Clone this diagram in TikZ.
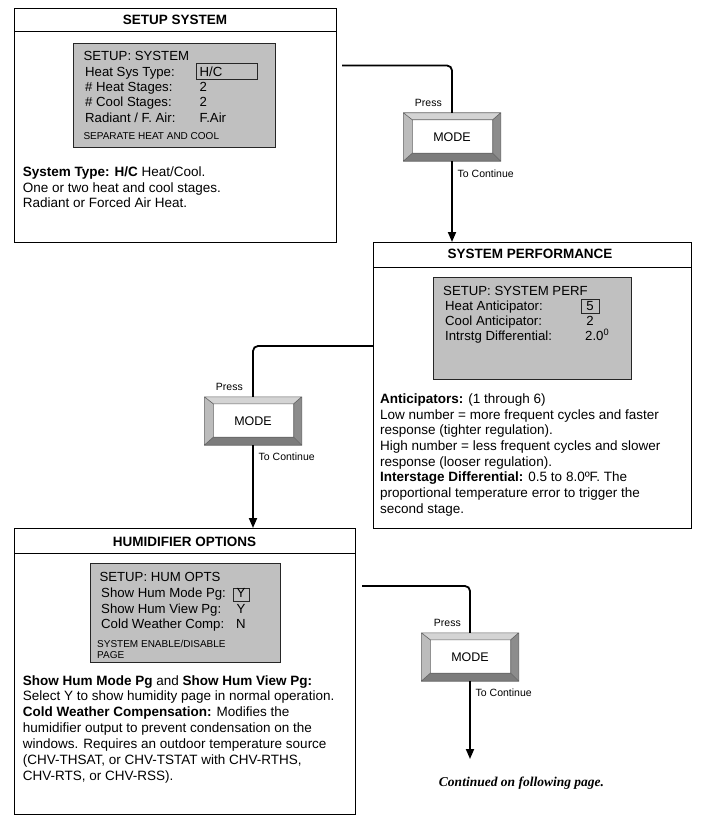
\documentclass[tikz,border=0pt]{standalone}
\usepackage{fontspec}
\setmainfont{Liberation Sans}
\newfontfamily\serifbi{Liberation Serif}
\usetikzlibrary{arrows.meta,calc}
\definecolor{scrgray}{RGB}{192,192,192}
\definecolor{bevT}{RGB}{212,212,212}
\definecolor{bevL}{RGB}{188,188,188}
\definecolor{bevR}{RGB}{140,140,140}
\definecolor{bevB}{RGB}{124,124,124}
\definecolor{bevline}{RGB}{100,100,100}
\newcommand\fmain{\fontsize{13.5}{15.7}\selectfont}
\newcommand\fscr{\fontsize{13.2}{15.4}\selectfont}
\newcommand\fsmall{\fontsize{10}{11}\selectfont}
\newcommand\flab{\fontsize{10.5}{12}\selectfont}
\newcommand\modebtn[3]{%
  \node[btnface] (#1) at (#2,#3) {MODE};
  \coordinate (#1-inw) at ([xshift=9pt,yshift=-7pt]#1.north west);
  \coordinate (#1-ine) at ([xshift=-8pt,yshift=-7pt]#1.north east);
  \coordinate (#1-ise) at ([xshift=-8pt,yshift=8pt]#1.south east);
  \coordinate (#1-isw) at ([xshift=9pt,yshift=8pt]#1.south west);
  \fill[bevT] (#1.north west) -- (#1.north east) -- (#1-ine) -- (#1-inw) -- cycle;
  \fill[bevL] (#1.north west) -- (#1-inw) -- (#1-isw) -- (#1.south west) -- cycle;
  \fill[bevR] (#1.north east) -- (#1.south east) -- (#1-ise) -- (#1-ine) -- cycle;
  \fill[bevB] (#1.south west) -- (#1.south east) -- (#1-ise) -- (#1-isw) -- cycle;
  \draw[bevline,line width=0.6pt] (#1.north west) rectangle (#1.south east)
    (#1-inw) rectangle (#1-ise)
    (#1.north west) -- (#1-inw) (#1.north east) -- (#1-ine)
    (#1.south east) -- (#1-ise) (#1.south west) -- (#1-isw);
}
\tikzset{
  box/.style={draw=black,line width=1pt,rectangle,anchor=north west,inner sep=0pt},
  screen/.style={draw=black!85,line width=1.3pt,fill=scrgray,rectangle,anchor=north west,inner sep=0pt},
  valframe/.style={draw=black!85,line width=1.2pt,rectangle,anchor=north west,inner sep=0pt},
  hdr/.style={anchor=base,inner sep=0pt,font=\fmain\bfseries},
  scr/.style={anchor=base west,inner sep=0pt,font=\fscr},
  scrc/.style={anchor=base,inner sep=0pt,font=\fscr},
  scrsm/.style={anchor=base west,inner sep=0pt,font=\fsmall},
  desc/.style={anchor=base west,inner sep=0pt},
  btnface/.style={rectangle,fill=white,minimum width=97pt,minimum height=48pt,inner sep=0pt,font=\fontsize{12.5}{14}\selectfont},
  lab/.style={inner sep=0pt,font=\flab},
  conn/.style={line width=1.8pt,rounded corners=5pt},
  arr/.style={line width=1.8pt,-{Triangle[length=10pt,width=8pt]}}
}
\begin{document}
\begin{tikzpicture}[x=1pt,y=-1pt]
\useasboundingbox[fill=white] (0,0) rectangle (705,824);

% ---------- Box 1 : SETUP SYSTEM ----------
\node[box,minimum width=322pt,minimum height=234pt] (box1) at (14,8) {};
\draw[line width=1pt] (box1.west |- 0,32) -- (box1.east |- 0,32);
\node[hdr] (h1) at (175,25) {SETUP SYSTEM};
\node[screen,minimum width=202pt,minimum height=104pt] (scr1) at (73,43) {};
\node[valframe,minimum width=61pt,minimum height=16pt] (vf1) at (196,63) {};
\node[scr] (s1t) at (83.3,61) {SETUP: SYSTEM};
\node[scr] (s1a) at (85,76.7) {Heat Sys Type:};
\node[scr] (s1av) at (199.5,76.5) {H/C};
\node[scr] (s1b) at (85,91.7) {\# Heat Stages:};
\node[scr] (s1bv) at (199.5,91.7) {2};
\node[scr] (s1c) at (85,106.7) {\# Cool Stages:};
\node[scr] (s1cv) at (199.5,106.7) {2};
\node[scr] (s1d) at (85,122.7) {Radiant / F. Air:};
\node[scr] (s1dv) at (199.5,123) {F.Air};
\node[scrsm] (s1e) at (83.3,139.3) {SEPARATE HEAT AND COOL};
\node[desc] (d1) at (22.7,176.7) {\parbox[t]{300pt}{\fontsize{13.5}{15.5}\selectfont
\textbf{System Type: H/C} Heat/Cool.\\
One or two heat and cool stages.\\
Radiant or Forced Air Heat.}};

% ---------- Box 2 : SYSTEM PERFORMANCE ----------
\node[box,minimum width=318pt,minimum height=286pt] (box2) at (373,242) {};
\draw[line width=1pt] (box2.west |- 0,267) -- (box2.east |- 0,267);
\node[hdr] (h2) at (530,258.3) {SYSTEM PERFORMANCE};
\node[screen,minimum width=198pt,minimum height=102pt] (scr2) at (433,277) {};
\node[valframe,minimum width=18pt,minimum height=14pt] (vf2) at (581,298.5) {};
\node[scr] (s2t) at (443,295) {SETUP: SYSTEM PERF};
\node[scr] (s2a) at (445,310) {Heat Anticipator:};
\node[scrc] (s2av) at (590,310) {5};
\node[scr] (s2b) at (445,325) {Cool Anticipator:};
\node[scrc] (s2bv) at (590,325) {2};
\node[scr] (s2c) at (445,340) {Intrstg Differential:};
\node[scr] (s2cv) at (585,340) {2.0\textsuperscript{0}};
\node[desc] (d2) at (380,403.3) {\parbox[t]{305pt}{\fontsize{13.5}{15.7}\selectfont
\textbf{Anticipators:} (1 through 6)\\
Low number = more frequent cycles and faster\\
response (tighter regulation).\\
High number = less frequent cycles and slower\\
response (looser regulation).\\
\textbf{Interstage Differential:} 0.5 to 8.0ºF. The\\
proportional temperature error to trigger the\\
second stage.}};

% ---------- Box 3 : HUMIDIFIER OPTIONS ----------
\node[box,minimum width=341pt,minimum height=286pt] (box3) at (14,528) {};
\draw[line width=1pt] (box3.west |- 0,553) -- (box3.east |- 0,553);
\node[hdr] (h3) at (184.5,546) {HUMIDIFIER OPTIONS};
\node[screen,minimum width=190pt,minimum height=99pt] (scr3) at (90,563) {};
\node[valframe,minimum width=16pt,minimum height=13pt] (vf3) at (233,588) {};
\node[scr] (s3t) at (99.3,581) {SETUP: HUM OPTS};
\node[scr] (s3a) at (101,597.7) {Show Hum Mode Pg:};
\node[scrc] (s3av) at (241,597.7) {Y};
\node[scr] (s3b) at (101,613.3) {Show Hum View Pg:};
\node[scrc] (s3bv) at (241,613.3) {Y};
\node[scr] (s3c) at (101,628.3) {Cold Weather Comp:};
\node[scrc] (s3cv) at (241,628.3) {N};
\node[scrsm] (s3d) at (97,647.3) {SYSTEM ENABLE/DISABLE};
\node[scrsm] (s3e) at (97,658.3) {PAGE};
\node[desc] (d3) at (22.7,685) {\parbox[t]{330pt}{\fontsize{13.5}{15.95}\selectfont
\textbf{Show Hum Mode Pg} and \textbf{Show Hum View Pg:}\\
Select Y to show humidity page in normal operation.\\
\textbf{Cold Weather Compensation:} Modifies the\\
humidifier output to prevent condensation on the\\
windows. Requires an outdoor temperature source\\
(CHV-THSAT, or CHV-TSTAT with CHV-RTHS,\\
CHV-RTS, or CHV-RSS).}};

% ---------- MODE buttons ----------
\modebtn{btn1}{452}{137}
\modebtn{btn2}{253}{421}
\modebtn{btn3}{470}{657}

\node[lab,anchor=base east] (p1) at ([xshift=-10pt,yshift=6pt]btn1.north) {Press};
\node[lab,anchor=base west] (t1) at ([xshift=5.5pt,yshift=-16pt]btn1.south) {To Continue};
\node[lab,anchor=base east] (p2) at ([xshift=-10pt,yshift=6pt]btn2.north) {Press};
\node[lab,anchor=base west] (t2) at ([xshift=5.5pt,yshift=-15pt]btn2.south) {To Continue};
\node[lab,anchor=base east] (p3) at ([xshift=-9pt,yshift=6pt]btn3.north) {Press};
\node[lab,anchor=base west] (t3) at ([xshift=5.5pt,yshift=-15pt]btn3.south) {To Continue};

% ---------- connectors ----------
\coordinate (c1) at (342,65.5);
\coordinate (c2) at (373,346);
\coordinate (c3) at (362,586);
\coordinate (e3) at (470,759);
\draw[conn] (c1) -| (btn1.north);
\draw[arr] (btn1.south) -- (btn1.south |- box2.north);
\draw[conn] (c2) -| (btn2.north);
\draw[arr] (btn2.south) -- (btn2.south |- box3.north);
\draw[conn] (c3) -| (btn3.north);
\draw[arr] (btn3.south) -- (e3);

\node[anchor=base,inner sep=0pt,font={\serifbi\bfseries\itshape\fontsize{13.5}{15}\selectfont}] (cont) at (521.5,786) {Continued on following page.};
\end{tikzpicture}
\end{document}
